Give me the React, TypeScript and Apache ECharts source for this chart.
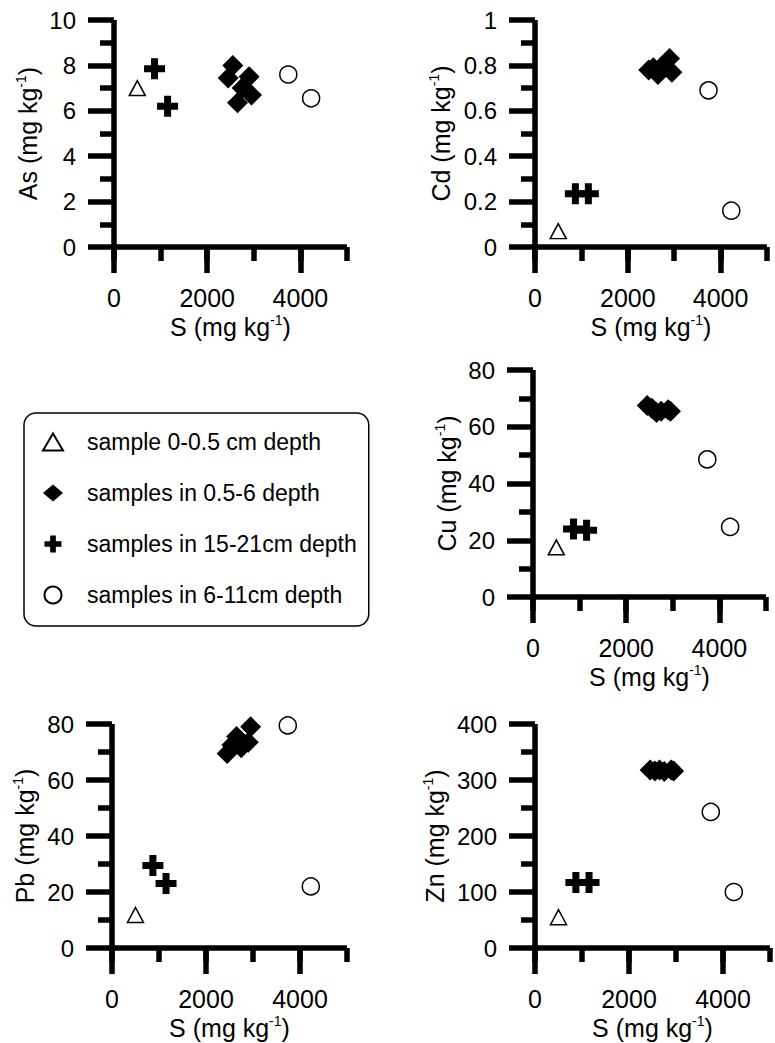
import React, { useEffect, useRef } from "react";
import * as echarts from "echarts";

// ---- data (S in mg/kg on x) ----
const seriesNames = [
  "sample 0-0.5 cm depth",
  "samples in 0.5-6 depth",
  "samples in 15-21cm depth",
  "samples in 6-11cm depth",
];
const sTriangle = [500];
const sDiamond = [2450, 2550, 2650, 2750, 2900, 2950];
const sCross = [870, 1150];
const sCircle = [3740, 4230];

const asTri = [7.0];
const asDia = [7.45, 8.0, 6.35, 7.0, 7.5, 6.7];
const asCross = [7.85, 6.2];
const asCircle = [7.6, 6.55];

const cdTri = [0.07];
const cdDia = [0.78, 0.79, 0.76, 0.8, 0.83, 0.77];
const cdCross = [0.235, 0.235];
const cdCircle = [0.69, 0.16];

const cuTri = [17.5];
const cuDia = [67.5, 66.5, 65, 65.5, 66, 65.5];
const cuCross = [24, 23.5];
const cuCircle = [48.5, 24.7];

const pbTri = [11.8];
const pbDia = [69.5, 72.5, 75.5, 71.5, 73.5, 79];
const pbCross = [29.5, 23];
const pbCircle = [79.5, 22];

const znTri = [55];
const znDia = [318, 316, 318, 315, 318, 316];
const znCross = [117, 117];
const znCircle = [243, 100];

const xMajorTicks = [0, 2000, 4000];

const panels = [
  { el: "As", tri: asTri, dia: asDia, cross: asCross, circle: asCircle, max: 10, interval: 2, nameGap: 72 },
  { el: "Cd", tri: cdTri, dia: cdDia, cross: cdCross, circle: cdCircle, max: 1, interval: 0.2, nameGap: 80 },
  { el: "Cu", tri: cuTri, dia: cuDia, cross: cuCross, circle: cuCircle, max: 80, interval: 20, nameGap: 72 },
  { el: "Pb", tri: pbTri, dia: pbDia, cross: pbCross, circle: pbCircle, max: 80, interval: 20, nameGap: 73 },
  { el: "Zn", tri: znTri, dia: znDia, cross: znCross, circle: znCircle, max: 400, interval: 100, nameGap: 86 },
];

// ---- layout ----
const grids = [
  { left: 114, top: 20, width: 233, height: 227 },
  { left: 535, top: 20, width: 232, height: 227 },
  { left: 533, top: 370, width: 233, height: 227 },
  { left: 112, top: 724, width: 235, height: 224 },
  { left: 535, top: 724, width: 235, height: 224 },
];

const FONT = '"Liberation Sans", Arial, Helvetica, sans-serif';
const LW = 5.5;
const PLUS = "path://M2,0H4V2H6V4H4V6H2V4H0V2H2Z";

const rich = {
  a: { fontSize: 25, fontFamily: FONT, color: "#000", lineHeight: 28 },
  s: { fontSize: 14, fontFamily: FONT, color: "#000", lineHeight: 12, verticalAlign: "top" },
};
const unitName = (el: string) => `{a|${el} (mg kg}{s|-1}{a|)}`;

const pairs = (xs: number[], ys: number[]) => xs.map((x, i) => [x, ys[i]]);

export default function App() {
  const ref = useRef<HTMLDivElement>(null);
  useEffect(() => {
    if (!ref.current) return;
    const chart = echarts.init(ref.current, null, { renderer: "svg" });

    const xAxis: any[] = [];
    const yAxis: any[] = [];
    const series: any[] = [];
    const line = () => ({ color: "#000", width: LW, opacity: 1, cap: "butt" });
    panels.forEach((p, i) => {
      xAxis.push({
        type: "value",
        gridIndex: i,
        position: "bottom",
        min: 0,
        max: 5000,
        interval: 1000,
        name: unitName("S"),
        nameLocation: "middle",
        nameGap: 66,
        nameTextStyle: { rich },
        axisLine: { show: true, onZero: false, lineStyle: line() },
        axisTick: { show: true, length: 14, lineStyle: line() },
        axisLabel: {
          fontSize: 25,
          fontFamily: FONT,
          color: "#000",
          margin: 38,
          formatter: (v: number) => (v % 2000 === 0 && v < 5000 ? String(v) : ""),
        },
        splitLine: { show: false },
      });
      xAxis.push({
        type: "value",
        gridIndex: i,
        position: "bottom",
        min: 0,
        max: 5000,
        interval: 1000,
        axisLine: { show: false, onZero: false },
        axisTick: { show: true, length: 26, customValues: xMajorTicks, lineStyle: line() },
        axisLabel: { show: false },
        splitLine: { show: false },
      });
      yAxis.push({
        type: "value",
        gridIndex: i,
        min: 0,
        max: p.max,
        interval: p.interval,
        name: unitName(p.el),
        nameLocation: "middle",
        nameRotate: 90,
        nameGap: p.nameGap,
        nameTextStyle: { rich },
        axisLine: { show: true, onZero: false, lineStyle: line() },
        axisTick: { show: true, length: 26, lineStyle: line() },
        minorTick: { show: true, splitNumber: 2, length: 14, lineStyle: line() },
        axisLabel: { fontSize: 24, fontFamily: FONT, color: "#000", margin: 38 },
        splitLine: { show: false },
        minorSplitLine: { show: false },
      });
      const xi = i * 2;
      series.push(
        {
          type: "scatter",
          name: seriesNames[0],
          xAxisIndex: xi,
          yAxisIndex: i,
          symbol: "triangle",
          symbolSize: [16, 15],
          itemStyle: { color: "#fff", borderColor: "#000", borderWidth: 1.5, opacity: 1 },
          data: pairs(sTriangle, p.tri),
        },
        {
          type: "scatter",
          name: seriesNames[1],
          xAxisIndex: xi,
          yAxisIndex: i,
          symbol: "diamond",
          symbolSize: [21, 21],
          itemStyle: { color: "#000", opacity: 1 },
          data: pairs(sDiamond, p.dia),
        },
        {
          type: "scatter",
          name: seriesNames[2],
          xAxisIndex: xi,
          yAxisIndex: i,
          symbol: PLUS,
          symbolSize: [21, 21],
          itemStyle: { color: "#000", opacity: 1 },
          data: pairs(sCross, p.cross),
        },
        {
          type: "scatter",
          name: seriesNames[3],
          xAxisIndex: xi,
          yAxisIndex: i,
          symbol: "circle",
          symbolSize: 17,
          itemStyle: { color: "#fff", borderColor: "#000", borderWidth: 1.5, opacity: 1 },
          data: pairs(sCircle, p.circle),
        }
      );
    });

    chart.setOption({
      animation: false,
      backgroundColor: "#fff",
      grid: grids.map((g) => ({ ...g, containLabel: false })),
      xAxis,
      yAxis,
      legend: {
        orient: "vertical",
        left: 24,
        top: 413,
        data: seriesNames,
        itemWidth: 20,
        itemHeight: 17,
        itemGap: 25,
        padding: [16, 12, 18, 18],
        borderColor: "#000",
        borderWidth: 1.5,
        borderRadius: 12,
        selectedMode: false,
        textStyle: { fontSize: 23, fontFamily: FONT, color: "#000", lineHeight: 26, padding: [0, 0, 0, 19] },
      },
      series,
    });
    return () => chart.dispose();
  }, []);
  return (
    <div
      ref={ref}
      style={{ position: "fixed", left: 0, top: 0, width: 775, height: 1043, background: "#fff" }}
    />
  );
}
